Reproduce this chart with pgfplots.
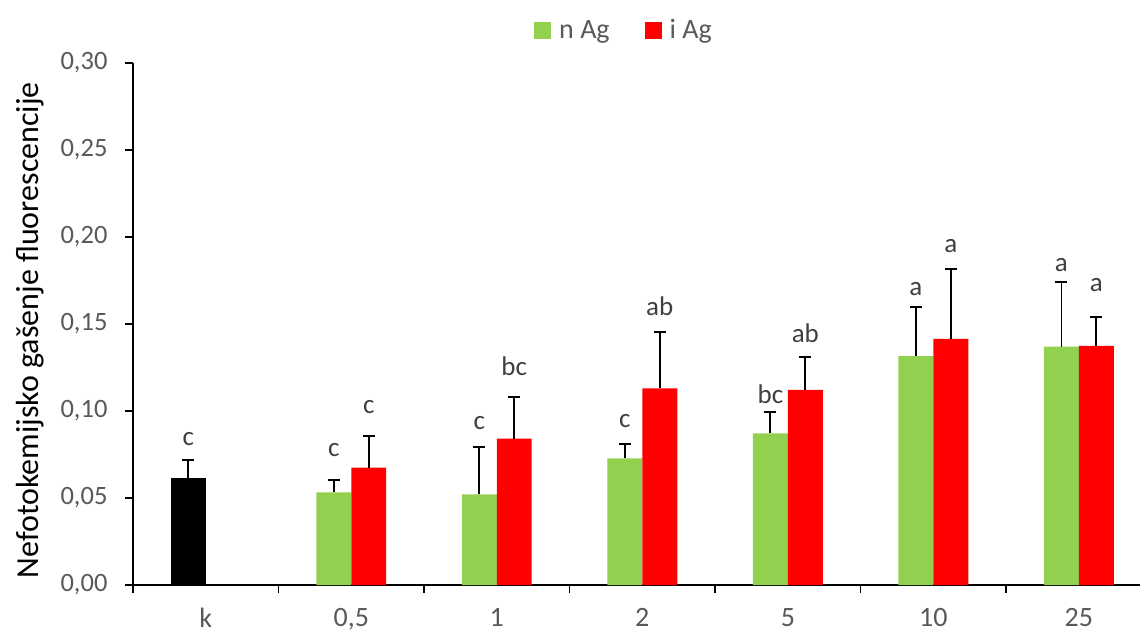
\documentclass[border=0pt]{standalone}
\usepackage{fontspec}
\setmainfont{Carlito}
\usepackage{pgfplots}
\usepackage{pgfplotstable}
\pgfplotsset{compat=1.18}

\definecolor{nag}{HTML}{92D050}
\definecolor{iag}{HTML}{FF0000}
\definecolor{txt}{HTML}{595959}
\definecolor{lab}{HTML}{404040}

% control (k)
\pgfplotstableread{
x y e
0 0.0613 0.0107
}\kontrola

% n Ag: 0,5 1 2 5 10 25
\pgfplotstableread{
x y e
1 0.0533 0.0070
2 0.0521 0.0272
3 0.0728 0.0084
4 0.0872 0.0120
5 0.1316 0.0280
6 0.1370 0.0370
}\nAg

% i Ag: 0,5 1 2 5 10 25
\pgfplotstableread{
x y e
1 0.0674 0.0182
2 0.0841 0.0238
3 0.1130 0.0326
4 0.1122 0.0188
5 0.1414 0.0404
6 0.1374 0.0168
}\iAg

% significance letters (baseline positions)
\pgfplotstableread{
x ly t
-0.12 0.0799 c
0.88 0.0736 c
1.12 0.0983 c
1.88 0.0891 c
2.12 0.1201 bc
2.88 0.0902 c
3.12 0.1546 ab
3.88 0.1040 bc
4.12 0.1391 ab
4.88 0.1661 a
5.12 0.1908 a
5.88 0.1799 a
6.12 0.1684 a
}\slova

\pgfplotsset{
  errstyle/.style={error bars/.cd, y dir=plus, y explicit,
    error bar style={line width=1.8pt, black},
    error mark options={line width=1.8pt, black, mark size=6pt, rotate=90}},
}

\begin{document}
\begin{tikzpicture}
\useasboundingbox (-133pt,-48pt) rectangle (1007pt,585pt);
\begin{axis}[
  at={(0pt,0pt)}, anchor=south west,
  scale only axis, width=1007pt, height=522pt,
  xmin=-0.5, xmax=6.42, ymin=0, ymax=0.3,
  axis x line=bottom, axis y line=left,
  axis line style={-, line width=1.5pt, black},
  tick align=outside, major tick length=8pt,
  tick style={line width=1.5pt, black},
  xtick={-0.5,0.5,1.5,2.5,3.5,4.5,5.5}, xticklabels={},
  extra x ticks={0,1,2,3,4,5,6},
  extra x tick labels={k,{0,5},1,2,5,10,25},
  extra x tick style={major tick length=0pt},
  xticklabel style={font=\fontsize{28}{33}\selectfont, text=txt, inner sep=0pt, yshift=-23pt},
  ytick={0,0.05,0.1,0.15,0.2,0.25,0.3},
  scaled y ticks=false,
  yticklabel style={font=\fontsize{26.5}{32}\selectfont, text=txt, xshift=-14pt,
    /pgf/number format/fixed, /pgf/number format/fixed zerofill,
    /pgf/number format/precision=2, /pgf/number format/use comma,
    /pgf/number format/assume math mode=true},
  ylabel={Nefotokemijsko gašenje fluorescencije},
  every axis y label/.style={at={(axis description cs:-0.1023,0.488)}, rotate=90, anchor=center,
    font=\fontsize{32}{38}\selectfont, text=black},
  legend style={at={(0.4876,1.063)}, anchor=center, draw=none, fill=none,
    font=\fontsize{28}{33}\selectfont, text=txt, legend columns=2,
    /tikz/every odd column/.append style={column sep=6pt},
    /tikz/every even column/.append style={column sep=33pt}},
]
\addplot[ybar, bar width=0.24, bar shift=0, fill=black, draw=none, forget plot, errstyle]
  table[x expr=\thisrow{x}-0.12, y=y, y error plus=e] {\kontrola};
\addplot[ybar, bar width=0.24, bar shift=0, fill=nag, draw=none,
  legend image code/.code={\fill[nag] (0pt,-8.5pt) rectangle (17pt,8.5pt);}, errstyle]
  table[x expr=\thisrow{x}-0.12, y=y, y error plus=e] {\nAg};
\addlegendentry{n Ag}
\addplot[ybar, bar width=0.24, bar shift=0, fill=iag, draw=none,
  legend image code/.code={\fill[iag] (0pt,-8.5pt) rectangle (17pt,8.5pt);}, errstyle]
  table[x expr=\thisrow{x}+0.12, y=y, y error plus=e] {\iAg};
\addlegendentry{i Ag}
\addplot[draw=none, mark=none, forget plot, nodes near coords, point meta=explicit symbolic,
  every node near coord/.append style={inner sep=0pt, font=\fontsize{27}{32}\selectfont, text=lab}]
  table[x=x, y=ly, meta=t] {\slova};
\end{axis}
\end{tikzpicture}
\end{document}
